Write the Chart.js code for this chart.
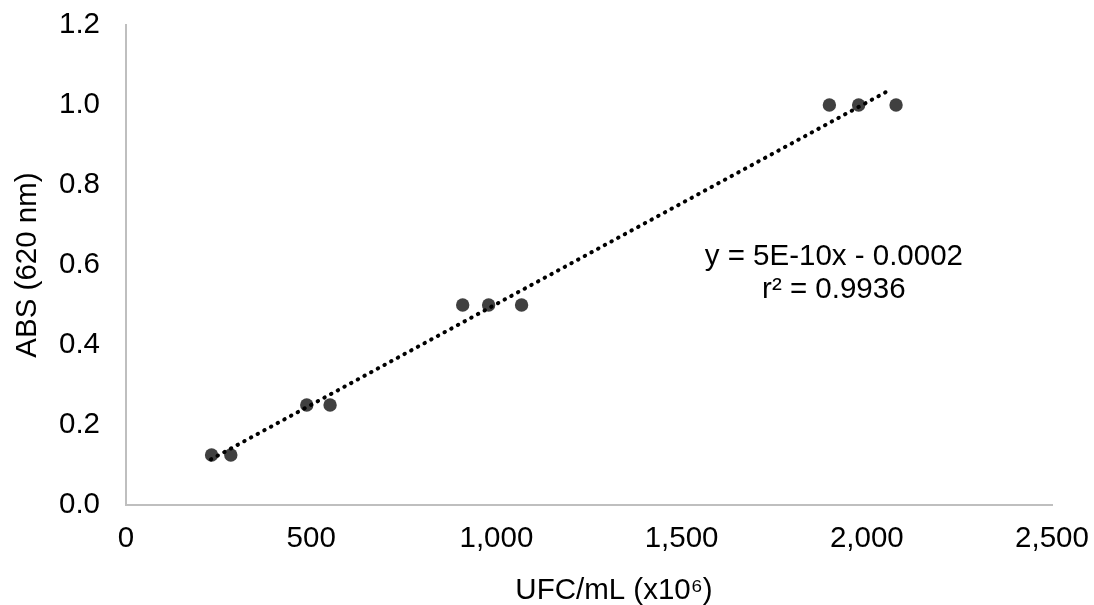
<!DOCTYPE html>
<html>
<head>
<meta charset="utf-8">
<script src="https://cdn.jsdelivr.net/npm/chart.js@4.4.0/dist/chart.umd.min.js"></script>
<style>
  body { margin: 0; background: #fff; }
  #wrap { width: 1094px; height: 605px; }
</style>
</head>
<body>
<div id="wrap"><canvas id="myChart" width="1094" height="605"></canvas></div>
<script>
// datos
const ufc = [231, 283, 488, 551, 909, 979, 1068, 1899, 1978, 2079]
const abs = [0.125, 0.125, 0.25, 0.25, 0.5, 0.5, 0.5, 1.0, 1.0, 1.0]

// linea de tendencia (extremos)
const tendX = [229, 2063]
const tendY = [0.114, 1.038]

const ticksX = [0, 500, 1000, 1500, 2000, 2500]
const ticksY = [0, 0.2, 0.4, 0.6, 0.8, 1.0, 1.2]

const tituloX = "UFC/mL (x10⁶)"
const tituloY = "ABS (620 nm)"
const ecuacion = ["y = 5E-10x - 0.0002", "r² = 0.9936"]
const posEcuacion = [1911, 0.62]

const fuente = '"Liberation Sans", Arial, sans-serif'
const tam = 29.5

function armarPuntos(xs, ys) {
    return xs.map((x, i) => ({ x: x, y: ys[i] }))
}

// textos extra: ecuacion y titulo del eje x
const textoPlugin = {
    id: 'texto',
    afterDraw(chart) {
        const ctx = chart.ctx
        const area = chart.chartArea
        ctx.save()
        ctx.font = tam + 'px ' + fuente
        ctx.fillStyle = '#000'
        ctx.textAlign = 'center'
        ctx.textBaseline = 'middle'
        const cx = chart.scales.x.getPixelForValue(posEcuacion[0])
        const cy = chart.scales.y.getPixelForValue(posEcuacion[1])
        ecuacion.forEach((linea, i) => ctx.fillText(linea, cx, cy + i * 33))
        ctx.textBaseline = 'alphabetic'
        ctx.fillText(tituloX, (area.left + area.right) / 2 + 25, 599)
        ctx.restore()
    }
}

const config = {
    type: 'scatter',
    data: {
        datasets: [
            {
                label: 'tendencia',
                type: 'line',
                data: armarPuntos(tendX, tendY),
                borderColor: '#000',
                borderWidth: 4,
                borderDash: [0.5, 7.1],
                borderCapStyle: 'round',
                pointRadius: 0,
                fill: false,
                order: 0
            },
            {
                label: 'ABS',
                data: armarPuntos(ufc, abs),
                backgroundColor: '#404040',
                borderWidth: 0,
                pointRadius: 6.7,
                order: 1
            }
        ]
    },
    options: {
        responsive: false,
        animation: false,
        layout: { padding: { left: 0, right: 42, top: 25, bottom: 0 } },
        plugins: {
            legend: { display: false },
            tooltip: { enabled: false }
        },
        scales: {
            x: {
                type: 'linear',
                min: 0,
                max: 2500,
                afterBuildTicks: (s) => { s.ticks = ticksX.map(v => ({ value: v })) },
                afterFit: (s) => {
                    s.height = 100
                    s.paddingLeft = 0
                    s.paddingRight = 0
                },
                grid: { display: false, drawTicks: false },
                border: { display: true, color: '#bfbfbf', width: 2 },
                ticks: {
                    padding: 16,
                    color: '#000',
                    font: { family: fuente, size: tam },
                    callback: (v) => v.toLocaleString('en-US')
                }
            },
            y: {
                min: 0,
                max: 1.2,
                afterBuildTicks: (s) => { s.ticks = ticksY.map(v => ({ value: v })) },
                afterFit: (s) => {
                    s.width = 126
                    s.paddingTop = 0
                    s.paddingBottom = 0
                },
                grid: { display: false, drawTicks: false },
                border: { display: true, color: '#bfbfbf', width: 2 },
                ticks: {
                    padding: 26,
                    color: '#000',
                    font: { family: fuente, size: tam },
                    callback: (v) => v.toFixed(1)
                },
                title: {
                    display: true,
                    text: tituloY,
                    color: '#000',
                    font: { family: fuente, size: tam },
                    padding: { top: 10, bottom: 0 }
                }
            }
        }
    },
    plugins: [textoPlugin]
}

new Chart(document.getElementById('myChart'), config)
</script>
</body>
</html>
